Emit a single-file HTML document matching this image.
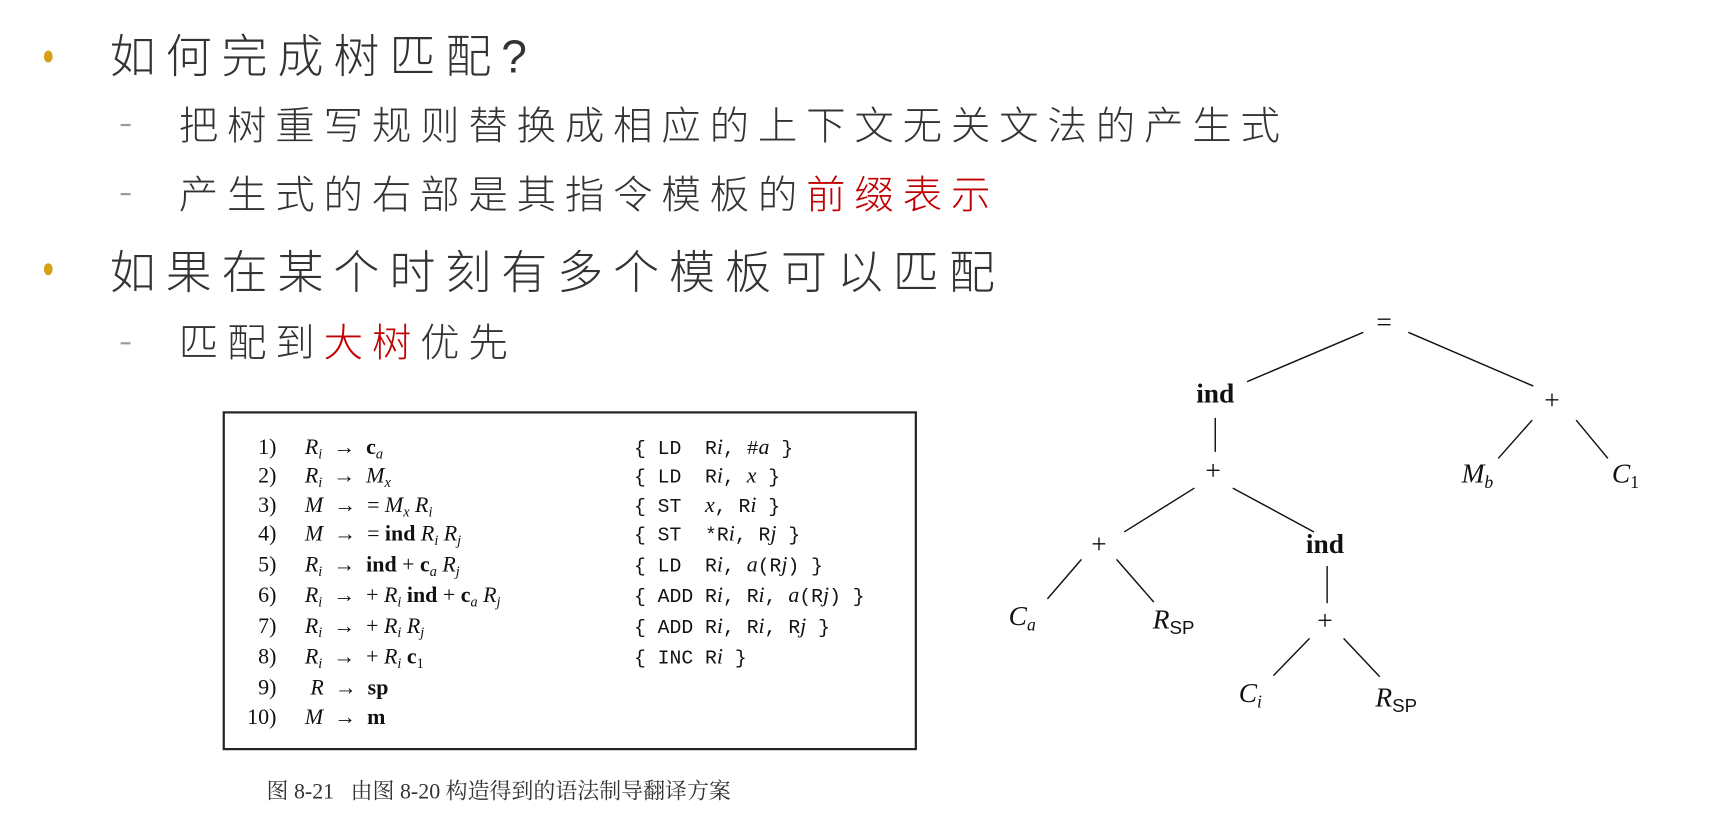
<!DOCTYPE html>
<html><head><meta charset="utf-8"><style>
html,body{margin:0;padding:0;background:#fff;overflow:hidden;width:1711px;height:824px}
#c{position:absolute;left:0;top:0;width:1560px;height:751px;transform:scale(1.0968);transform-origin:0 0}
.a{position:absolute;white-space:nowrap}
.cn{font-family:"Liberation Sans","Noto Sans CJK SC",sans-serif;color:#333;font-weight:300}
.l1{font-size:42px;letter-spacing:9px}
.l2{font-size:36px;letter-spacing:8px}
.dot{position:absolute;width:8px;height:11px;border-radius:50%;background:#d4a017}
.dash{position:absolute;width:9px;height:2px;background:#999}
.red{color:#c00000}
.box{position:absolute;left:203px;top:375px;width:629px;height:305px;border:2px solid #222}
.m{font-family:"Liberation Serif",serif;font-size:20px;color:#111;line-height:20px}
.m i{font-style:italic}
.m sub{font-size:13px;vertical-align:-4px;line-height:0}
.n{width:42px;text-align:right}
.tt{font-family:"Liberation Mono",monospace;font-size:18px;color:#111;line-height:20px}
.tt i{font-family:"Liberation Serif",serif;font-size:20px}
.t{font-family:"Liberation Serif",serif;font-size:25px;color:#111;transform:translate(-50%,-50%)}
.t sub{font-size:16px;vertical-align:-5px;line-height:0}
.t .sf{font-family:"Liberation Sans",sans-serif;font-size:17px;font-style:normal}
</style></head><body><div id="c">
<div class="dot" style="left:40px;top:46px"></div>
<div class="a cn l1" style="left:100px;top:18px">如何完成树匹配?</div>
<div class="dash" style="left:110px;top:113px"></div>
<div class="a cn l2" style="left:163px;top:86px">把树重写规则替换成相应的上下文无关文法的产生式</div>
<div class="dash" style="left:110px;top:176px"></div>
<div class="a cn l2" style="left:163px;top:149px">产生式的右部是其指令模板的<span class="red">前缀表示</span></div>
<div class="dot" style="left:40px;top:240px"></div>
<div class="a cn l1" style="left:100px;top:215px">如果在某个时刻有多个模板可以匹配</div>
<div class="dash" style="left:110px;top:312px"></div>
<div class="a cn l2" style="left:163px;top:284px">匹配到<span class="red">大树</span>优先</div>

<div class="box"></div>
<div class="a m n" style="left:210px;top:398px">1)</div>
<div class="a m n" style="left:210px;top:424px">2)</div>
<div class="a m n" style="left:210px;top:451px">3)</div>
<div class="a m n" style="left:210px;top:477px">4)</div>
<div class="a m n" style="left:210px;top:505px">5)</div>
<div class="a m n" style="left:210px;top:533px">6)</div>
<div class="a m n" style="left:210px;top:561px">7)</div>
<div class="a m n" style="left:210px;top:589px">8)</div>
<div class="a m n" style="left:210px;top:617px">9)</div>
<div class="a m n" style="left:210px;top:644px">10)</div>

<div class="a m" style="left:278px;top:398px"><i>R<sub>i</sub></i> &nbsp;→ &nbsp;<b>c</b><sub><i>a</i></sub></div>
<div class="a m" style="left:278px;top:424px"><i>R<sub>i</sub></i> &nbsp;→ &nbsp;<i>M<sub>x</sub></i></div>
<div class="a m" style="left:278px;top:451px"><i>M</i> &nbsp;→ &nbsp;= <i>M<sub>x</sub> R<sub>i</sub></i></div>
<div class="a m" style="left:278px;top:477px"><i>M</i> &nbsp;→ &nbsp;= <b>ind</b> <i>R<sub>i</sub> R<sub>j</sub></i></div>
<div class="a m" style="left:278px;top:505px"><i>R<sub>i</sub></i> &nbsp;→ &nbsp;<b>ind</b> + <b>c</b><sub><i>a</i></sub> <i>R<sub>j</sub></i></div>
<div class="a m" style="left:278px;top:533px"><i>R<sub>i</sub></i> &nbsp;→ &nbsp;+ <i>R<sub>i</sub></i> <b>ind</b> + <b>c</b><sub><i>a</i></sub> <i>R<sub>j</sub></i></div>
<div class="a m" style="left:278px;top:561px"><i>R<sub>i</sub></i> &nbsp;→ &nbsp;+ <i>R<sub>i</sub> R<sub>j</sub></i></div>
<div class="a m" style="left:278px;top:589px"><i>R<sub>i</sub></i> &nbsp;→ &nbsp;+ <i>R<sub>i</sub></i> <b>c</b><sub>1</sub></div>
<div class="a m" style="left:283px;top:617px"><i>R</i> &nbsp;→ &nbsp;<b>sp</b></div>
<div class="a m" style="left:278px;top:644px"><i>M</i> &nbsp;→ &nbsp;<b>m</b></div>

<div class="a tt" style="left:578px;top:398px">{ LD&nbsp; R<i>i</i>, #<i>a</i> }</div>
<div class="a tt" style="left:578px;top:424px">{ LD&nbsp; R<i>i</i>, <i>x</i> }</div>
<div class="a tt" style="left:578px;top:451px">{ ST&nbsp; <i>x</i>, R<i>i</i> }</div>
<div class="a tt" style="left:578px;top:477px">{ ST&nbsp; *R<i>i</i>, R<i>j</i> }</div>
<div class="a tt" style="left:578px;top:505px">{ LD&nbsp; R<i>i</i>, <i>a</i>(R<i>j</i>) }</div>
<div class="a tt" style="left:578px;top:533px">{ ADD R<i>i</i>, R<i>i</i>, <i>a</i>(R<i>j</i>) }</div>
<div class="a tt" style="left:578px;top:561px">{ ADD R<i>i</i>, R<i>i</i>, R<i>j</i> }</div>
<div class="a tt" style="left:578px;top:589px">{ INC R<i>i</i> }</div>
<div class="a" style="left:243px;top:705px;font-family:'Liberation Serif','Noto Serif CJK SC',serif;font-size:20px;color:#333">图 8-21&nbsp;&nbsp; 由图 8-20 构造得到的语法制导翻译方案</div>

<svg class="a" style="left:0;top:0" width="1560" height="751">
<g stroke="#111" stroke-width="1.3" fill="none">
<line x1="1243" y1="303" x2="1137" y2="348"/>
<line x1="1284" y1="303" x2="1398" y2="352"/>
<line x1="1108" y1="381" x2="1108" y2="412"/>
<line x1="1397" y1="383" x2="1366" y2="418"/>
<line x1="1437" y1="383" x2="1466" y2="418"/>
<line x1="1089" y1="445" x2="1025" y2="485"/>
<line x1="1124" y1="445" x2="1198" y2="485"/>
<line x1="986" y1="510" x2="955" y2="546"/>
<line x1="1018" y1="510" x2="1052" y2="549"/>
<line x1="1210" y1="516" x2="1210" y2="550"/>
<line x1="1194" y1="582" x2="1161" y2="616"/>
<line x1="1225" y1="582" x2="1258" y2="617"/>
</g></svg>
<div class="a t" style="left:1262px;top:295px">=</div>
<div class="a t" style="left:1108px;top:360px"><b>ind</b></div>
<div class="a t" style="left:1415px;top:366px">+</div>
<div class="a t" style="left:1106px;top:430px">+</div>
<div class="a t" style="left:1347px;top:433px"><i>M<sub>b</sub></i></div>
<div class="a t" style="left:1482px;top:433px"><i>C</i><sub>1</sub></div>
<div class="a t" style="left:1002px;top:497px">+</div>
<div class="a t" style="left:1208px;top:497px"><b>ind</b></div>
<div class="a t" style="left:932px;top:563px"><i>C<sub>a</sub></i></div>
<div class="a t" style="left:1070px;top:566px"><i>R</i><sub class="sf">SP</sub></div>
<div class="a t" style="left:1208px;top:567px">+</div>
<div class="a t" style="left:1140px;top:633px"><i>C<sub>i</sub></i></div>
<div class="a t" style="left:1273px;top:637px"><i>R</i><sub class="sf">SP</sub></div>
</div></body></html>
